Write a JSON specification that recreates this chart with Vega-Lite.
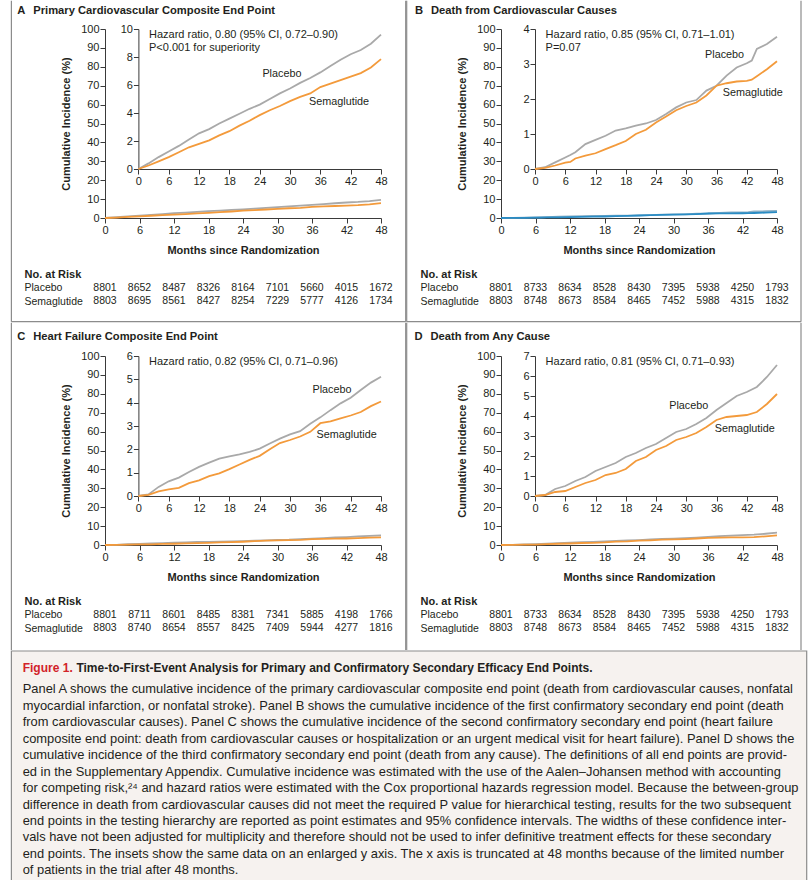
{
  "$schema": "https://vega.github.io/schema/vega-lite/v6.json",
  "padding": {"left": 10, "top": 0, "right": 0, "bottom": 0},
  "background": "white",
  "config": {
    "font": "Liberation Sans, Arial, sans-serif",
    "view": {"stroke": null},
    "axis": {"labelFont": "Liberation Sans, Arial, sans-serif", "labelFontSize": 11, "labelColor": "#231f20", "titleFont": "Liberation Sans, Arial, sans-serif", "titleFontSize": 11, "titleFontWeight": "bold", "titleColor": "#231f20", "domainColor": "#3a3a3a", "tickColor": "#3a3a3a", "tickSize": 5, "labelPadding": 1, "titlePadding": 9, "grid": false, "labelFlush": false, "labelOverlap": false},
    "title": {"font": "Liberation Sans, Arial, sans-serif", "fontSize": 11.2, "fontWeight": "bold", "color": "#231f20", "anchor": "start"},
    "text": {"font": "Liberation Sans, Arial, sans-serif", "color": "#231f20"},
    "rule": {"color": "#8c8c8c", "strokeWidth": 1.2}
  },
  "datasets": {
    "curves": [
      {"panel":"A","month":0,"Placebo":0,"Semaglutide":0},
      {"panel":"A","month":2,"Placebo":0.4,"Semaglutide":0.25},
      {"panel":"A","month":4,"Placebo":0.85,"Semaglutide":0.55},
      {"panel":"A","month":6,"Placebo":1.25,"Semaglutide":0.85},
      {"panel":"A","month":8,"Placebo":1.65,"Semaglutide":1.2},
      {"panel":"A","month":10,"Placebo":2.1,"Semaglutide":1.55},
      {"panel":"A","month":12,"Placebo":2.55,"Semaglutide":1.8},
      {"panel":"A","month":14,"Placebo":2.85,"Semaglutide":2.05},
      {"panel":"A","month":16,"Placebo":3.25,"Semaglutide":2.4},
      {"panel":"A","month":18,"Placebo":3.6,"Semaglutide":2.7},
      {"panel":"A","month":20,"Placebo":3.95,"Semaglutide":3.1},
      {"panel":"A","month":22,"Placebo":4.3,"Semaglutide":3.45},
      {"panel":"A","month":24,"Placebo":4.6,"Semaglutide":3.85},
      {"panel":"A","month":26,"Placebo":5.0,"Semaglutide":4.2},
      {"panel":"A","month":28,"Placebo":5.4,"Semaglutide":4.5},
      {"panel":"A","month":30,"Placebo":5.75,"Semaglutide":4.85},
      {"panel":"A","month":32,"Placebo":6.15,"Semaglutide":5.15},
      {"panel":"A","month":34,"Placebo":6.5,"Semaglutide":5.4},
      {"panel":"A","month":36,"Placebo":6.9,"Semaglutide":5.85},
      {"panel":"A","month":38,"Placebo":7.35,"Semaglutide":6.1},
      {"panel":"A","month":40,"Placebo":7.8,"Semaglutide":6.35},
      {"panel":"A","month":42,"Placebo":8.2,"Semaglutide":6.6},
      {"panel":"A","month":44,"Placebo":8.5,"Semaglutide":6.85},
      {"panel":"A","month":46,"Placebo":8.95,"Semaglutide":7.25},
      {"panel":"A","month":48,"Placebo":9.6,"Semaglutide":7.85},
      {"panel":"B","month":0,"Placebo":0,"Semaglutide":0},
      {"panel":"B","month":2,"Placebo":0.05,"Semaglutide":0.03},
      {"panel":"B","month":4,"Placebo":0.19,"Semaglutide":0.1},
      {"panel":"B","month":6,"Placebo":0.33,"Semaglutide":0.18},
      {"panel":"B","month":7,"Placebo":0.4,"Semaglutide":0.2},
      {"panel":"B","month":8,"Placebo":0.48,"Semaglutide":0.3},
      {"panel":"B","month":10,"Placebo":0.71,"Semaglutide":0.38},
      {"panel":"B","month":12,"Placebo":0.83,"Semaglutide":0.45},
      {"panel":"B","month":14,"Placebo":0.95,"Semaglutide":0.57},
      {"panel":"B","month":16,"Placebo":1.1,"Semaglutide":0.68},
      {"panel":"B","month":18,"Placebo":1.16,"Semaglutide":0.8},
      {"panel":"B","month":20,"Placebo":1.24,"Semaglutide":1.0},
      {"panel":"B","month":22,"Placebo":1.3,"Semaglutide":1.12},
      {"panel":"B","month":24,"Placebo":1.4,"Semaglutide":1.33},
      {"panel":"B","month":26,"Placebo":1.57,"Semaglutide":1.5},
      {"panel":"B","month":28,"Placebo":1.76,"Semaglutide":1.68},
      {"panel":"B","month":30,"Placebo":1.9,"Semaglutide":1.8},
      {"panel":"B","month":32,"Placebo":1.97,"Semaglutide":1.9},
      {"panel":"B","month":34,"Placebo":2.24,"Semaglutide":2.1},
      {"panel":"B","month":36,"Placebo":2.38,"Semaglutide":2.38},
      {"panel":"B","month":38,"Placebo":2.67,"Semaglutide":2.45},
      {"panel":"B","month":40,"Placebo":2.9,"Semaglutide":2.5},
      {"panel":"B","month":42,"Placebo":3.02,"Semaglutide":2.52},
      {"panel":"B","month":43,"Placebo":3.1,"Semaglutide":2.55},
      {"panel":"B","month":44,"Placebo":3.43,"Semaglutide":2.65},
      {"panel":"B","month":46,"Placebo":3.57,"Semaglutide":2.85},
      {"panel":"B","month":48,"Placebo":3.78,"Semaglutide":3.08},
      {"panel":"C","month":0,"Placebo":0,"Semaglutide":0},
      {"panel":"C","month":2,"Placebo":0.07,"Semaglutide":0.05},
      {"panel":"C","month":4,"Placebo":0.39,"Semaglutide":0.2},
      {"panel":"C","month":6,"Placebo":0.63,"Semaglutide":0.28},
      {"panel":"C","month":8,"Placebo":0.79,"Semaglutide":0.35},
      {"panel":"C","month":10,"Placebo":1.03,"Semaglutide":0.55},
      {"panel":"C","month":12,"Placebo":1.25,"Semaglutide":0.67},
      {"panel":"C","month":14,"Placebo":1.43,"Semaglutide":0.85},
      {"panel":"C","month":16,"Placebo":1.6,"Semaglutide":0.97},
      {"panel":"C","month":18,"Placebo":1.7,"Semaglutide":1.15},
      {"panel":"C","month":20,"Placebo":1.78,"Semaglutide":1.35},
      {"panel":"C","month":22,"Placebo":1.89,"Semaglutide":1.55},
      {"panel":"C","month":24,"Placebo":2.03,"Semaglutide":1.72},
      {"panel":"C","month":26,"Placebo":2.25,"Semaglutide":2.0},
      {"panel":"C","month":28,"Placebo":2.46,"Semaglutide":2.27},
      {"panel":"C","month":30,"Placebo":2.64,"Semaglutide":2.4},
      {"panel":"C","month":32,"Placebo":2.78,"Semaglutide":2.55},
      {"panel":"C","month":34,"Placebo":3.1,"Semaglutide":2.75},
      {"panel":"C","month":36,"Placebo":3.37,"Semaglutide":3.12},
      {"panel":"C","month":38,"Placebo":3.68,"Semaglutide":3.2},
      {"panel":"C","month":40,"Placebo":3.97,"Semaglutide":3.33},
      {"panel":"C","month":42,"Placebo":4.21,"Semaglutide":3.45},
      {"panel":"C","month":44,"Placebo":4.54,"Semaglutide":3.6},
      {"panel":"C","month":46,"Placebo":4.86,"Semaglutide":3.85},
      {"panel":"C","month":48,"Placebo":5.11,"Semaglutide":4.05},
      {"panel":"D","month":0,"Placebo":0,"Semaglutide":0},
      {"panel":"D","month":2,"Placebo":0.05,"Semaglutide":0.05},
      {"panel":"D","month":4,"Placebo":0.35,"Semaglutide":0.2},
      {"panel":"D","month":6,"Placebo":0.5,"Semaglutide":0.25},
      {"panel":"D","month":8,"Placebo":0.75,"Semaglutide":0.45},
      {"panel":"D","month":10,"Placebo":0.95,"Semaglutide":0.65},
      {"panel":"D","month":12,"Placebo":1.25,"Semaglutide":0.8},
      {"panel":"D","month":14,"Placebo":1.45,"Semaglutide":1.05},
      {"panel":"D","month":16,"Placebo":1.65,"Semaglutide":1.15},
      {"panel":"D","month":18,"Placebo":1.95,"Semaglutide":1.35},
      {"panel":"D","month":20,"Placebo":2.15,"Semaglutide":1.75},
      {"panel":"D","month":22,"Placebo":2.4,"Semaglutide":1.95},
      {"panel":"D","month":24,"Placebo":2.6,"Semaglutide":2.3},
      {"panel":"D","month":26,"Placebo":2.9,"Semaglutide":2.5},
      {"panel":"D","month":28,"Placebo":3.2,"Semaglutide":2.8},
      {"panel":"D","month":30,"Placebo":3.35,"Semaglutide":2.95},
      {"panel":"D","month":32,"Placebo":3.6,"Semaglutide":3.15},
      {"panel":"D","month":34,"Placebo":3.9,"Semaglutide":3.45},
      {"panel":"D","month":36,"Placebo":4.3,"Semaglutide":3.8},
      {"panel":"D","month":38,"Placebo":4.65,"Semaglutide":3.95},
      {"panel":"D","month":40,"Placebo":5.0,"Semaglutide":4.0},
      {"panel":"D","month":42,"Placebo":5.2,"Semaglutide":4.05},
      {"panel":"D","month":44,"Placebo":5.45,"Semaglutide":4.2},
      {"panel":"D","month":46,"Placebo":5.95,"Semaglutide":4.6},
      {"panel":"D","month":48,"Placebo":6.55,"Semaglutide":5.1}
    ],
    "notes": [
      {"panel":"A","kind":"hr","month":2.1,"pct":9.57,"label":"Hazard ratio, 0.80 (95% CI, 0.72–0.90)"},
      {"panel":"A","kind":"hr","month":2.1,"pct":8.61,"label":"P<0.001 for superiority"},
      {"panel":"A","kind":"lab","month":28.4,"pct":6.79,"label":"Placebo"},
      {"panel":"A","kind":"lab","month":39.7,"pct":4.76,"label":"Semaglutide"},
      {"panel":"B","kind":"hr","month":2.1,"pct":3.83,"label":"Hazard ratio, 0.85 (95% CI, 0.71–1.01)"},
      {"panel":"B","kind":"hr","month":2.1,"pct":3.47,"label":"P=0.07"},
      {"panel":"B","kind":"lab","month":37.6,"pct":3.27,"label":"Placebo"},
      {"panel":"B","kind":"lab","month":43.2,"pct":2.17,"label":"Semaglutide"},
      {"panel":"C","kind":"hr","month":2.1,"pct":5.73,"label":"Hazard ratio, 0.82 (95% CI, 0.71–0.96)"},
      {"panel":"C","kind":"lab","month":38.3,"pct":4.54,"label":"Placebo"},
      {"panel":"C","kind":"lab","month":41.2,"pct":2.61,"label":"Semaglutide"},
      {"panel":"D","kind":"hr","month":2.1,"pct":6.68,"label":"Hazard ratio, 0.81 (95% CI, 0.71–0.93)"},
      {"panel":"D","kind":"lab","month":30.5,"pct":4.51,"label":"Placebo"},
      {"panel":"D","kind":"lab","month":41.6,"pct":3.34,"label":"Semaglutide"}
    ],
    "risk": [
      {"panel":"A","month":0,"Placebo":8801,"Semaglutide":8803},
      {"panel":"A","month":6,"Placebo":8652,"Semaglutide":8695},
      {"panel":"A","month":12,"Placebo":8487,"Semaglutide":8561},
      {"panel":"A","month":18,"Placebo":8326,"Semaglutide":8427},
      {"panel":"A","month":24,"Placebo":8164,"Semaglutide":8254},
      {"panel":"A","month":30,"Placebo":7101,"Semaglutide":7229},
      {"panel":"A","month":36,"Placebo":5660,"Semaglutide":5777},
      {"panel":"A","month":42,"Placebo":4015,"Semaglutide":4126},
      {"panel":"A","month":48,"Placebo":1672,"Semaglutide":1734},
      {"panel":"B","month":0,"Placebo":8801,"Semaglutide":8803},
      {"panel":"B","month":6,"Placebo":8733,"Semaglutide":8748},
      {"panel":"B","month":12,"Placebo":8634,"Semaglutide":8673},
      {"panel":"B","month":18,"Placebo":8528,"Semaglutide":8584},
      {"panel":"B","month":24,"Placebo":8430,"Semaglutide":8465},
      {"panel":"B","month":30,"Placebo":7395,"Semaglutide":7452},
      {"panel":"B","month":36,"Placebo":5938,"Semaglutide":5988},
      {"panel":"B","month":42,"Placebo":4250,"Semaglutide":4315},
      {"panel":"B","month":48,"Placebo":1793,"Semaglutide":1832},
      {"panel":"C","month":0,"Placebo":8801,"Semaglutide":8803},
      {"panel":"C","month":6,"Placebo":8711,"Semaglutide":8740},
      {"panel":"C","month":12,"Placebo":8601,"Semaglutide":8654},
      {"panel":"C","month":18,"Placebo":8485,"Semaglutide":8557},
      {"panel":"C","month":24,"Placebo":8381,"Semaglutide":8425},
      {"panel":"C","month":30,"Placebo":7341,"Semaglutide":7409},
      {"panel":"C","month":36,"Placebo":5885,"Semaglutide":5944},
      {"panel":"C","month":42,"Placebo":4198,"Semaglutide":4277},
      {"panel":"C","month":48,"Placebo":1766,"Semaglutide":1816},
      {"panel":"D","month":0,"Placebo":8801,"Semaglutide":8803},
      {"panel":"D","month":6,"Placebo":8733,"Semaglutide":8748},
      {"panel":"D","month":12,"Placebo":8634,"Semaglutide":8673},
      {"panel":"D","month":18,"Placebo":8528,"Semaglutide":8584},
      {"panel":"D","month":24,"Placebo":8430,"Semaglutide":8465},
      {"panel":"D","month":30,"Placebo":7395,"Semaglutide":7452},
      {"panel":"D","month":36,"Placebo":5938,"Semaglutide":5988},
      {"panel":"D","month":42,"Placebo":4250,"Semaglutide":4315},
      {"panel":"D","month":48,"Placebo":1793,"Semaglutide":1832}
    ],
    "heading": [
      {"part":"fig","line":0,"text":"Figure 1."},
      {"part":"rest","line":0,"text":"Time-to-First-Event Analysis for Primary and Confirmatory Secondary Efficacy End Points."}
    ],
    "caption": [
      {"line":1,"text":"Panel A shows the cumulative incidence of the primary cardiovascular composite end point (death from cardiovascular causes, nonfatal"},
      {"line":2,"text":"myocardial infarction, or nonfatal stroke). Panel B shows the cumulative incidence of the first confirmatory secondary end point (death"},
      {"line":3,"text":"from cardiovascular causes). Panel C shows the cumulative incidence of the second confirmatory secondary end point (heart failure"},
      {"line":4,"text":"composite end point: death from cardiovascular causes or hospitalization or an urgent medical visit for heart failure). Panel D shows the"},
      {"line":5,"text":"cumulative incidence of the third confirmatory secondary end point (death from any cause). The definitions of all end points are provid-"},
      {"line":6,"text":"ed in the Supplementary Appendix. Cumulative incidence was estimated with the use of the Aalen–Johansen method with accounting"},
      {"line":7,"text":"for competing risk,²⁴ and hazard ratios were estimated with the Cox proportional hazards regression model. Because the between-group"},
      {"line":8,"text":"difference in death from cardiovascular causes did not meet the required P value for hierarchical testing, results for the two subsequent"},
      {"line":9,"text":"end points in the testing hierarchy are reported as point estimates and 95% confidence intervals. The widths of these confidence inter-"},
      {"line":10,"text":"vals have not been adjusted for multiplicity and therefore should not be used to infer definitive treatment effects for these secondary"},
      {"line":11,"text":"end points. The insets show the same data on an enlarged y axis. The x axis is truncated at 48 months because of the limited number"},
      {"line":12,"text":"of patients in the trial after 48 months."}
    ]
  },
  "spacing": -1,
  "vconcat": [
    {
      "spacing": -1,
      "hconcat": [
        {
          "width": 276, "height": 189,
          "title": {"text": "A\u2002\u2009Primary Cardiovascular Composite End Point", "dx": 6.5, "offset": -16},
          "layer": [
            {
              "data": {"values": [{}]},
              "encoding": {
                "x": {"datum": 0, "type": "quantitative", "scale": {"domain": [0, 1], "range": [-93.6, 300.7], "nice": false, "zero": false}, "axis": null},
                "y": {"datum": 0, "type": "quantitative", "scale": {"domain": [0, 1], "range": [-28.3, 292.7], "nice": false, "zero": false}, "axis": null}
              },
              "layer": [
                {"mark": "rule", "encoding": {"y2": {"datum": 1}}},
                {"mark": "rule", "encoding": {"x": {"datum": 1, "type": "quantitative"}, "y2": {"datum": 1}}},
                {"mark": "rule", "encoding": {"y": {"datum": 1, "type": "quantitative"}, "x2": {"datum": 1}}}
              ]
            },
            {
              "data": {"name": "curves"},
              "transform": [{"filter": "datum.panel === 'A'"}, {"fold": ["Placebo", "Semaglutide"], "as": ["group", "pct"]}],
              "mark": {"type": "line", "strokeWidth": 1.8},
              "encoding": {
                "x": {"field": "month", "type": "quantitative", "scale": {"domain": [0, 48], "nice": false}, "axis": {"values": [0,6,12,18,24,30,36,42,48], "title": "Months since Randomization", "orient": "bottom"}},
                "y": {"field": "pct", "type": "quantitative", "scale": {"domain": [0, 100], "nice": false}, "axis": {"values": [0,10,20,30,40,50,60,70,80,90,100], "title": "Cumulative Incidence (%)", "orient": "left"}},
                "color": {"field": "group", "type": "nominal", "scale": {"domain": ["Placebo", "Semaglutide"], "range": ["#a9a9a9", "#f39a3b"]}, "legend": null}
              }
            },
            {
              "encoding": {
                "x": {"field": "month", "type": "quantitative", "scale": {"domain": [0, 48], "range": [33.4, 276], "nice": false}, "axis": {"values": [0,6,12,18,24,30,36,42,48], "title": null, "orient": "bottom", "offset": -49}},
                "y": {"field": "pct", "type": "quantitative", "scale": {"domain": [0, 10], "range": [140, 0], "nice": false}, "axis": {"values": [0,2,4,6,8,10], "title": null, "orient": "left", "offset": -33.4}}
              },
              "layer": [
                {
                  "data": {"name": "curves"},
                  "transform": [{"filter": "datum.panel === 'A'"}, {"fold": ["Placebo", "Semaglutide"], "as": ["group", "pct"]}],
                  "mark": {"type": "line", "strokeWidth": 1.8},
                  "encoding": {"color": {"field": "group", "type": "nominal", "scale": {"domain": ["Placebo", "Semaglutide"], "range": ["#a9a9a9", "#f39a3b"]}, "legend": null}}
                },
                {
                  "data": {"name": "notes"},
                  "transform": [{"filter": "datum.panel === 'A' && datum.kind === 'hr'"}],
                  "mark": {"type": "text", "align": "left", "baseline": "middle", "fontSize": 11},
                  "encoding": {"text": {"field": "label"}}
                },
                {
                  "data": {"name": "notes"},
                  "transform": [{"filter": "datum.panel === 'A' && datum.kind === 'lab'"}],
                  "mark": {"type": "text", "align": "center", "baseline": "middle", "fontSize": 10.8},
                  "encoding": {"text": {"field": "label"}}
                }
              ]
            },
            {
              "data": {"name": "risk"},
              "transform": [{"filter": "datum.panel === 'A'"}, {"fold": ["Placebo", "Semaglutide"], "as": ["group", "n"]}],
              "mark": {"type": "text", "fontSize": 10.5, "baseline": "middle"},
              "encoding": {
                "x": {"field": "month", "type": "quantitative", "scale": {"domain": [0, 48], "nice": false}, "axis": null},
                "y": {"field": "group", "type": "nominal", "scale": {"domain": ["No. at Risk", "Placebo", "Semaglutide"], "range": [238.15, 279.25], "paddingInner": 0, "paddingOuter": 0}, "axis": {"orient": "left", "title": null, "domain": false, "ticks": false, "tickSize": 0, "labelAlign": "left", "labelBaseline": "middle", "labelPadding": 81, "labelFontSize": {"condition": {"test": "datum.value === 'No. at Risk'", "value": 11}, "value": 10.5}, "labelFontWeight": {"condition": {"test": "datum.value === 'No. at Risk'", "value": "bold"}, "value": "normal"}}},
                "text": {"field": "n", "type": "nominal"}
              }
            }
          ],
          "resolve": {"scale": {"x": "independent", "y": "independent", "color": "independent"}, "axis": {"x": "independent", "y": "independent"}}
        },
        {
          "width": 276, "height": 189,
          "title": {"text": "B\u2002\u2009Death from Cardiovascular Causes", "dx": 9, "offset": -16},
          "layer": [
            {
              "data": {"values": [{}]},
              "encoding": {
                "x": {"datum": 0, "type": "quantitative", "scale": {"domain": [0, 1], "range": [-94.3, 300], "nice": false, "zero": false}, "axis": null},
                "y": {"datum": 0, "type": "quantitative", "scale": {"domain": [0, 1], "range": [-28.3, 292.7], "nice": false, "zero": false}, "axis": null}
              },
              "layer": [
                {"mark": "rule", "encoding": {"y2": {"datum": 1}}},
                {"mark": "rule", "encoding": {"x": {"datum": 1, "type": "quantitative"}, "y2": {"datum": 1}}},
                {"mark": "rule", "encoding": {"y": {"datum": 1, "type": "quantitative"}, "x2": {"datum": 1}}}
              ]
            },
            {
              "data": {"name": "curves"},
              "transform": [{"filter": "datum.panel === 'B'"}, {"fold": ["Placebo", "Semaglutide"], "as": ["group", "pct"]}],
              "mark": {"type": "line", "strokeWidth": 1.8},
              "encoding": {
                "x": {"field": "month", "type": "quantitative", "scale": {"domain": [0, 48], "nice": false}, "axis": {"values": [0,6,12,18,24,30,36,42,48], "title": "Months since Randomization", "orient": "bottom"}},
                "y": {"field": "pct", "type": "quantitative", "scale": {"domain": [0, 100], "nice": false}, "axis": {"values": [0,10,20,30,40,50,60,70,80,90,100], "title": "Cumulative Incidence (%)", "orient": "left"}},
                "color": {"field": "group", "type": "nominal", "scale": {"domain": ["Placebo", "Semaglutide"], "range": ["#8db0c6", "#2a8cc4"]}, "legend": null}
              }
            },
            {
              "encoding": {
                "x": {"field": "month", "type": "quantitative", "scale": {"domain": [0, 48], "range": [34, 276], "nice": false}, "axis": {"values": [0,6,12,18,24,30,36,42,48], "title": null, "orient": "bottom", "offset": -49}},
                "y": {"field": "pct", "type": "quantitative", "scale": {"domain": [0, 4], "range": [140, 0], "nice": false}, "axis": {"values": [0,1,2,3,4], "title": null, "orient": "left", "offset": -34}}
              },
              "layer": [
                {
                  "data": {"name": "curves"},
                  "transform": [{"filter": "datum.panel === 'B'"}, {"fold": ["Placebo", "Semaglutide"], "as": ["group", "pct"]}],
                  "mark": {"type": "line", "strokeWidth": 1.8},
                  "encoding": {"color": {"field": "group", "type": "nominal", "scale": {"domain": ["Placebo", "Semaglutide"], "range": ["#a9a9a9", "#f39a3b"]}, "legend": null}}
                },
                {
                  "data": {"name": "notes"},
                  "transform": [{"filter": "datum.panel === 'B' && datum.kind === 'hr'"}],
                  "mark": {"type": "text", "align": "left", "baseline": "middle", "fontSize": 11},
                  "encoding": {"text": {"field": "label"}}
                },
                {
                  "data": {"name": "notes"},
                  "transform": [{"filter": "datum.panel === 'B' && datum.kind === 'lab'"}],
                  "mark": {"type": "text", "align": "center", "baseline": "middle", "fontSize": 10.8},
                  "encoding": {"text": {"field": "label"}}
                }
              ]
            },
            {
              "data": {"name": "risk"},
              "transform": [{"filter": "datum.panel === 'B'"}, {"fold": ["Placebo", "Semaglutide"], "as": ["group", "n"]}],
              "mark": {"type": "text", "fontSize": 10.5, "baseline": "middle"},
              "encoding": {
                "x": {"field": "month", "type": "quantitative", "scale": {"domain": [0, 48], "nice": false}, "axis": null},
                "y": {"field": "group", "type": "nominal", "scale": {"domain": ["No. at Risk", "Placebo", "Semaglutide"], "range": [238.15, 279.25], "paddingInner": 0, "paddingOuter": 0}, "axis": {"orient": "left", "title": null, "domain": false, "ticks": false, "tickSize": 0, "labelAlign": "left", "labelBaseline": "middle", "labelPadding": 81, "labelFontSize": {"condition": {"test": "datum.value === 'No. at Risk'", "value": 11}, "value": 10.5}, "labelFontWeight": {"condition": {"test": "datum.value === 'No. at Risk'", "value": "bold"}, "value": "normal"}}},
                "text": {"field": "n", "type": "nominal"}
              }
            }
          ],
          "resolve": {"scale": {"x": "independent", "y": "independent", "color": "independent"}, "axis": {"x": "independent", "y": "independent"}}
        }
      ]
    },
    {
      "spacing": -1,
      "hconcat": [
        {
          "width": 276, "height": 189,
          "title": {"text": "C\u2002\u2009Heart Failure Composite End Point", "dx": 6.5, "offset": -20.4},
          "layer": [
            {
              "data": {"values": [{}]},
              "encoding": {
                "x": {"datum": 0, "type": "quantitative", "scale": {"domain": [0, 1], "range": [-93.6, 300.7], "nice": false, "zero": false}, "axis": null},
                "y": {"datum": 0, "type": "quantitative", "scale": {"domain": [0, 1], "range": [-33.3, 294], "nice": false, "zero": false}, "axis": null}
              },
              "layer": [
                {"mark": "rule", "encoding": {"y2": {"datum": 1}}},
                {"mark": "rule", "encoding": {"x": {"datum": 1, "type": "quantitative"}, "y2": {"datum": 1}}}
              ]
            },
            {
              "data": {"name": "curves"},
              "transform": [{"filter": "datum.panel === 'C'"}, {"fold": ["Placebo", "Semaglutide"], "as": ["group", "pct"]}],
              "mark": {"type": "line", "strokeWidth": 1.8},
              "encoding": {
                "x": {"field": "month", "type": "quantitative", "scale": {"domain": [0, 48], "nice": false}, "axis": {"values": [0,6,12,18,24,30,36,42,48], "title": "Months since Randomization", "orient": "bottom"}},
                "y": {"field": "pct", "type": "quantitative", "scale": {"domain": [0, 100], "nice": false}, "axis": {"values": [0,10,20,30,40,50,60,70,80,90,100], "title": "Cumulative Incidence (%)", "orient": "left"}},
                "color": {"field": "group", "type": "nominal", "scale": {"domain": ["Placebo", "Semaglutide"], "range": ["#a9a9a9", "#f39a3b"]}, "legend": null}
              }
            },
            {
              "encoding": {
                "x": {"field": "month", "type": "quantitative", "scale": {"domain": [0, 48], "range": [33.4, 276], "nice": false}, "axis": {"values": [0,6,12,18,24,30,36,42,48], "title": null, "orient": "bottom", "offset": -49}},
                "y": {"field": "pct", "type": "quantitative", "scale": {"domain": [0, 6], "range": [140, 0], "nice": false}, "axis": {"values": [0,1,2,3,4,5,6], "title": null, "orient": "left", "offset": -33.4}}
              },
              "layer": [
                {
                  "data": {"name": "curves"},
                  "transform": [{"filter": "datum.panel === 'C'"}, {"fold": ["Placebo", "Semaglutide"], "as": ["group", "pct"]}],
                  "mark": {"type": "line", "strokeWidth": 1.8},
                  "encoding": {"color": {"field": "group", "type": "nominal", "scale": {"domain": ["Placebo", "Semaglutide"], "range": ["#a9a9a9", "#f39a3b"]}, "legend": null}}
                },
                {
                  "data": {"name": "notes"},
                  "transform": [{"filter": "datum.panel === 'C' && datum.kind === 'hr'"}],
                  "mark": {"type": "text", "align": "left", "baseline": "middle", "fontSize": 11},
                  "encoding": {"text": {"field": "label"}}
                },
                {
                  "data": {"name": "notes"},
                  "transform": [{"filter": "datum.panel === 'C' && datum.kind === 'lab'"}],
                  "mark": {"type": "text", "align": "center", "baseline": "middle", "fontSize": 10.8},
                  "encoding": {"text": {"field": "label"}}
                }
              ]
            },
            {
              "data": {"name": "risk"},
              "transform": [{"filter": "datum.panel === 'C'"}, {"fold": ["Placebo", "Semaglutide"], "as": ["group", "n"]}],
              "mark": {"type": "text", "fontSize": 10.5, "baseline": "middle"},
              "encoding": {
                "x": {"field": "month", "type": "quantitative", "scale": {"domain": [0, 48], "nice": false}, "axis": null},
                "y": {"field": "group", "type": "nominal", "scale": {"domain": ["No. at Risk", "Placebo", "Semaglutide"], "range": [238.15, 279.25], "paddingInner": 0, "paddingOuter": 0}, "axis": {"orient": "left", "title": null, "domain": false, "ticks": false, "tickSize": 0, "labelAlign": "left", "labelBaseline": "middle", "labelPadding": 81, "labelFontSize": {"condition": {"test": "datum.value === 'No. at Risk'", "value": 11}, "value": 10.5}, "labelFontWeight": {"condition": {"test": "datum.value === 'No. at Risk'", "value": "bold"}, "value": "normal"}}},
                "text": {"field": "n", "type": "nominal"}
              }
            }
          ],
          "resolve": {"scale": {"x": "independent", "y": "independent", "color": "independent"}, "axis": {"x": "independent", "y": "independent"}}
        },
        {
          "width": 276, "height": 189,
          "title": {"text": "D\u2002\u2009Death from Any Cause", "dx": 8.5, "offset": -20.4},
          "layer": [
            {
              "data": {"values": [{}]},
              "encoding": {
                "x": {"datum": 0, "type": "quantitative", "scale": {"domain": [0, 1], "range": [-94.3, 300], "nice": false, "zero": false}, "axis": null},
                "y": {"datum": 0, "type": "quantitative", "scale": {"domain": [0, 1], "range": [-33.3, 294], "nice": false, "zero": false}, "axis": null}
              },
              "layer": [
                {"mark": "rule", "encoding": {"y2": {"datum": 1}}},
                {"mark": "rule", "encoding": {"x": {"datum": 1, "type": "quantitative"}, "y2": {"datum": 1}}}
              ]
            },
            {
              "data": {"name": "curves"},
              "transform": [{"filter": "datum.panel === 'D'"}, {"fold": ["Placebo", "Semaglutide"], "as": ["group", "pct"]}],
              "mark": {"type": "line", "strokeWidth": 1.8},
              "encoding": {
                "x": {"field": "month", "type": "quantitative", "scale": {"domain": [0, 48], "nice": false}, "axis": {"values": [0,6,12,18,24,30,36,42,48], "title": "Months since Randomization", "orient": "bottom"}},
                "y": {"field": "pct", "type": "quantitative", "scale": {"domain": [0, 100], "nice": false}, "axis": {"values": [0,10,20,30,40,50,60,70,80,90,100], "title": "Cumulative Incidence (%)", "orient": "left"}},
                "color": {"field": "group", "type": "nominal", "scale": {"domain": ["Placebo", "Semaglutide"], "range": ["#a9a9a9", "#f39a3b"]}, "legend": null}
              }
            },
            {
              "encoding": {
                "x": {"field": "month", "type": "quantitative", "scale": {"domain": [0, 48], "range": [34, 276], "nice": false}, "axis": {"values": [0,6,12,18,24,30,36,42,48], "title": null, "orient": "bottom", "offset": -49}},
                "y": {"field": "pct", "type": "quantitative", "scale": {"domain": [0, 7], "range": [140, 0], "nice": false}, "axis": {"values": [0,1,2,3,4,5,6,7], "title": null, "orient": "left", "offset": -34}}
              },
              "layer": [
                {
                  "data": {"name": "curves"},
                  "transform": [{"filter": "datum.panel === 'D'"}, {"fold": ["Placebo", "Semaglutide"], "as": ["group", "pct"]}],
                  "mark": {"type": "line", "strokeWidth": 1.8},
                  "encoding": {"color": {"field": "group", "type": "nominal", "scale": {"domain": ["Placebo", "Semaglutide"], "range": ["#a9a9a9", "#f39a3b"]}, "legend": null}}
                },
                {
                  "data": {"name": "notes"},
                  "transform": [{"filter": "datum.panel === 'D' && datum.kind === 'hr'"}],
                  "mark": {"type": "text", "align": "left", "baseline": "middle", "fontSize": 11},
                  "encoding": {"text": {"field": "label"}}
                },
                {
                  "data": {"name": "notes"},
                  "transform": [{"filter": "datum.panel === 'D' && datum.kind === 'lab'"}],
                  "mark": {"type": "text", "align": "center", "baseline": "middle", "fontSize": 10.8},
                  "encoding": {"text": {"field": "label"}}
                }
              ]
            },
            {
              "data": {"name": "risk"},
              "transform": [{"filter": "datum.panel === 'D'"}, {"fold": ["Placebo", "Semaglutide"], "as": ["group", "n"]}],
              "mark": {"type": "text", "fontSize": 10.5, "baseline": "middle"},
              "encoding": {
                "x": {"field": "month", "type": "quantitative", "scale": {"domain": [0, 48], "nice": false}, "axis": null},
                "y": {"field": "group", "type": "nominal", "scale": {"domain": ["No. at Risk", "Placebo", "Semaglutide"], "range": [238.15, 279.25], "paddingInner": 0, "paddingOuter": 0}, "axis": {"orient": "left", "title": null, "domain": false, "ticks": false, "tickSize": 0, "labelAlign": "left", "labelBaseline": "middle", "labelPadding": 81, "labelFontSize": {"condition": {"test": "datum.value === 'No. at Risk'", "value": 11}, "value": 10.5}, "labelFontWeight": {"condition": {"test": "datum.value === 'No. at Risk'", "value": "bold"}, "value": "normal"}}},
                "text": {"field": "n", "type": "nominal"}
              }
            }
          ],
          "resolve": {"scale": {"x": "independent", "y": "independent", "color": "independent"}, "axis": {"x": "independent", "y": "independent"}}
        }
      ]
    },
    {
      "width": 701, "height": 232,
      "layer": [
        {
          "data": {"values": [{}]},
          "mark": {"type": "rect", "fill": "#f6f2ef", "stroke": "#8c8c8c", "strokeWidth": 1.2},
          "encoding": {
            "x": {"datum": 0, "type": "quantitative", "scale": {"domain": [0, 1], "range": [-93.6, 701.7], "nice": false, "zero": false}, "axis": null},
            "x2": {"datum": 1},
            "y": {"datum": 0, "type": "quantitative", "scale": {"domain": [0, 1], "range": [0, 232], "nice": false, "zero": false}, "axis": null},
            "y2": {"datum": 1}
          }
        },
        {
          "encoding": {
            "x": {"datum": 0, "type": "quantitative", "scale": {"domain": [0, 1], "range": [-93.6, 701.7], "nice": false, "zero": false}, "axis": null},
            "y": {"field": "line", "type": "quantitative", "scale": {"domain": [-1.3343, 12.7696], "reverse": true, "nice": false, "zero": false}, "axis": null}
          },
          "layer": [
            {
              "data": {"name": "caption"},
              "mark": {"type": "text", "align": "left", "baseline": "middle", "fontSize": 12.9, "dx": 11.3},
              "encoding": {"text": {"field": "text"}}
            },
            {
              "data": {"name": "heading"},
              "transform": [{"filter": "datum.part === 'fig'"}],
              "mark": {"type": "text", "align": "left", "baseline": "middle", "fontSize": 12, "fontWeight": "bold", "color": "#d2232a", "dx": 11.3, "dy": -5},
              "encoding": {"text": {"field": "text"}}
            },
            {
              "data": {"name": "heading"},
              "transform": [{"filter": "datum.part === 'rest'"}],
              "mark": {"type": "text", "align": "left", "baseline": "middle", "fontSize": 12, "fontWeight": "bold", "dx": 65, "dy": -5},
              "encoding": {"text": {"field": "text"}}
            }
          ]
        }
      ],
      "resolve": {"scale": {"x": "independent", "y": "independent"}}
    }
  ]
}
